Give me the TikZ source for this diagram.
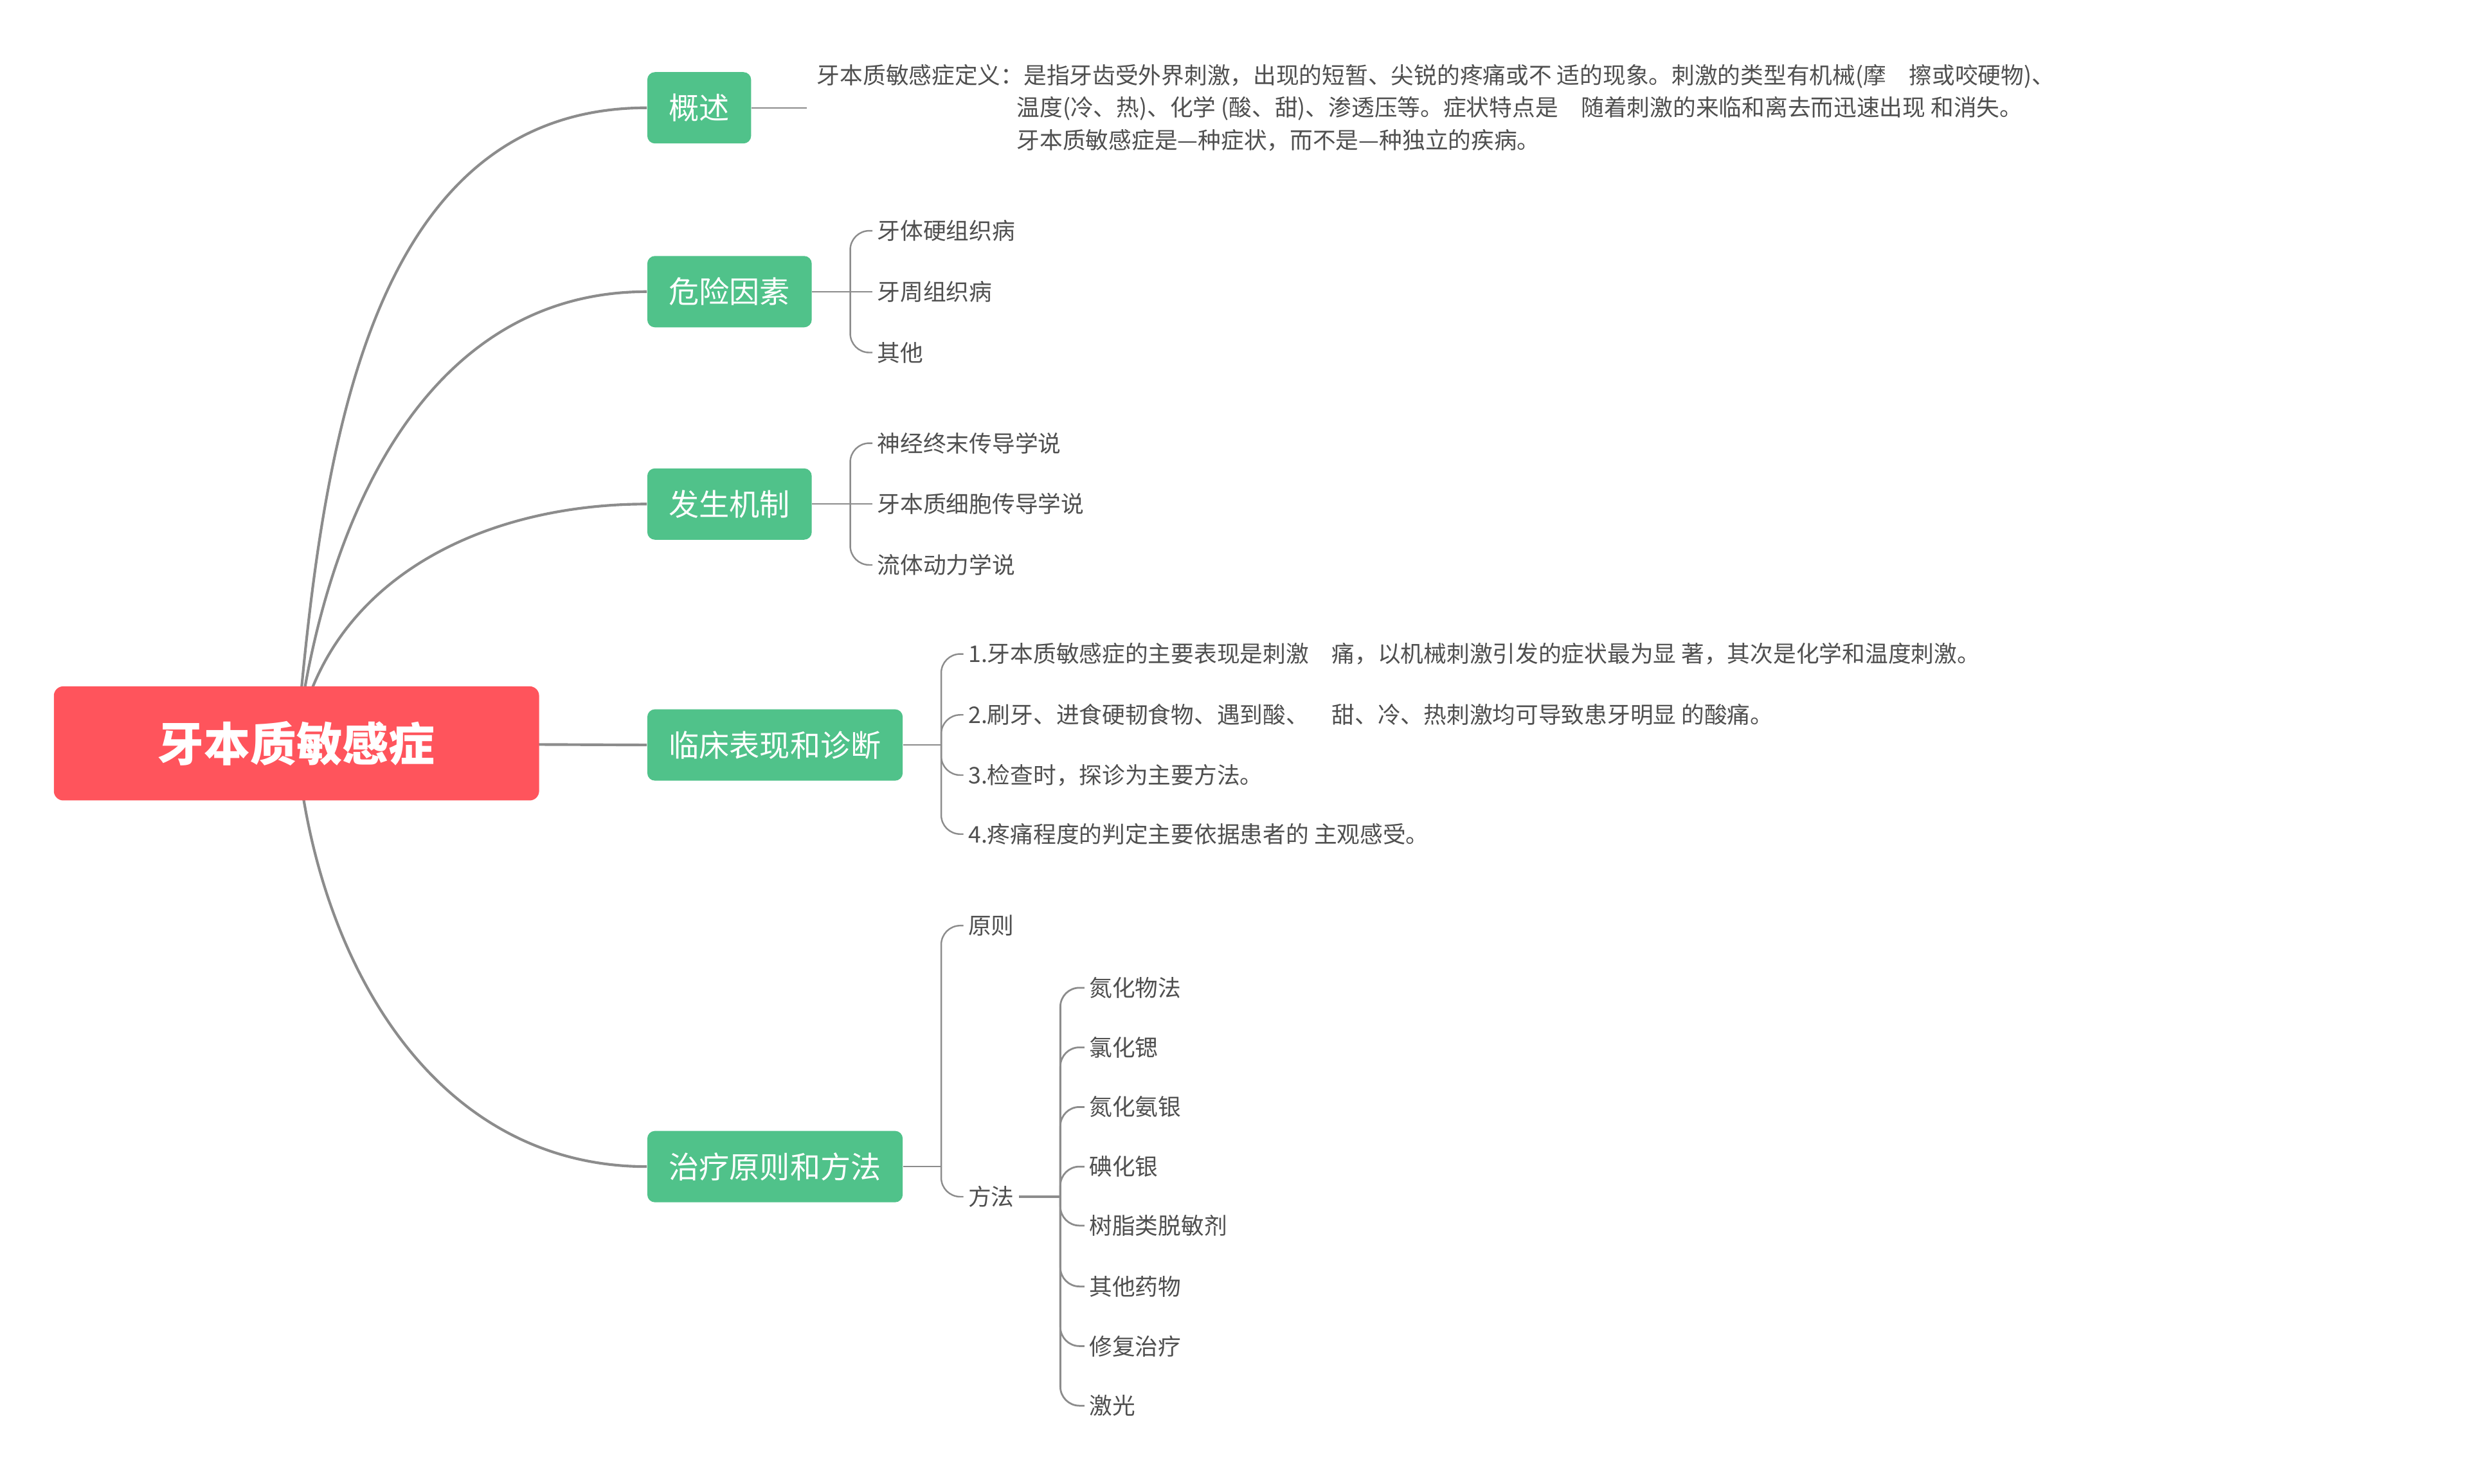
\documentclass[tikz,border=0pt]{standalone}
\usepackage{fontspec}
\setmainfont{Noto Sans CJK SC}
\usepackage{tikz}
\usetikzlibrary{positioning,backgrounds}

\definecolor{rootred}{HTML}{FF545C}
\definecolor{topicgreen}{HTML}{50C28A}
\definecolor{linegray}{HTML}{8C8C8C}
\definecolor{leafgray}{HTML}{4F4F4F}

\begin{document}
\begin{tikzpicture}[
  x=0.025cm, y=-0.025cm,
  root/.style={rectangle,rounded corners=1.5mm,fill=rootred,text=white,minimum width=76.5mm,minimum height=18mm,font=\fontsize{20.7}{24}\selectfont\bfseries},
  topic/.style={rectangle,rounded corners=1.2mm,fill=topicgreen,text=white,minimum height=11.25mm,inner xsep=3.4mm,anchor=west,font=\fontsize{13.6}{16}\selectfont},
  leaf/.style={inner xsep=0.7mm,inner ysep=0.5mm,text=leafgray,font=\fontsize{10.3}{14.6}\selectfont},
  note/.style={leaf,align=left,inner xsep=1.5mm},
  branch/.style={draw=linegray,line width=1.2pt},
  twig/.style={draw=linegray,line width=0.7pt,rounded corners=3mm},
]
  \useasboundingbox (0,0) rectangle (1568,936);
  % centre and main topics
  \node[root] (root) at (187,469) {牙本质敏感症};
  \node[topic] (gist) at (408,68) {概述};
  \node[topic] (risk) at (408,184) {危险因素};
  \node[topic] (mech) at (408,318) {发生机制};
  \node[topic] (clin) at (408,470) {临床表现和诊断};
  \node[topic] (treat) at (408,736) {治疗原则和方法};
  \begin{scope}[on background layer]
    \draw[branch] (root.center) to[out=85,in=180] (gist.west);
    \draw[branch] (root.center) to[out=83,in=180] (risk.west);
    \draw[branch] (root.center) to[out=80,in=180] (mech.west);
    \draw[branch] (root.center) -- (clin.west);
    \draw[branch] (root.center) to[out=-85,in=180] (treat.west);
  \end{scope}

  % overview
  \node[note,right=8.75mm of gist] (gistnote) {牙本质敏感症定义：是指牙齿受外界刺激，出现的短暂、尖锐的疼痛或不 适的现象。刺激的类型有机械(摩　擦或咬硬物)、\\
    \hspace*{31.5mm}温度(冷、热)、化学 (酸、甜)、渗透压等。症状特点是　随着刺激的来临和离去而迅速出现 和消失。\\
    \hspace*{31.5mm}牙本质敏感症是—种症状，而不是—种独立的疾病。};
  \draw[twig] (gist) -- (gistnote);

  % risk factors
  \coordinate[right=6mm of risk.east] (riskfork);
  \node[leaf,right=3.5mm of riskfork] (r2) {牙周组织病};
  \node[leaf,above=9.6mm of r2.west,anchor=west] (r1) {牙体硬组织病};
  \node[leaf,below=9.6mm of r2.west,anchor=west] (r3) {其他};
  \draw[twig] (risk) -- (r2);
  \draw[twig] (riskfork) |- (r1.west);
  \draw[twig] (riskfork) |- (r3.west);

  % mechanism
  \coordinate[right=6mm of mech.east] (mechfork);
  \node[leaf,right=3.5mm of mechfork] (m2) {牙本质细胞传导学说};
  \node[leaf,above=9.6mm of m2.west,anchor=west] (m1) {神经终末传导学说};
  \node[leaf,below=9.6mm of m2.west,anchor=west] (m3) {流体动力学说};
  \draw[twig] (mech) -- (m2);
  \draw[twig] (mechfork) |- (m1.west);
  \draw[twig] (mechfork) |- (m3.west);

  % clinical signs
  \coordinate[right=6mm of clin.east] (clinfork);
  \node[leaf,above right=4.75mm and 3.5mm of clinfork,anchor=west] (c2) {2.刷牙、进食硬韧食物、遇到酸、　甜、冷、热刺激均可导致患牙明显 的酸痛。};
  \node[leaf,above=9.6mm of c2.west,anchor=west] (c1) {1.牙本质敏感症的主要表现是刺激　痛，以机械刺激引发的症状最为显 著，其次是化学和温度刺激。};
  \node[leaf,below=9.5mm of c2.west,anchor=west] (c3) {3.检查时，探诊为主要方法。};
  \node[leaf,below=9.3mm of c3.west,anchor=west] (c4) {4.疼痛程度的判定主要依据患者的 主观感受。};
  \draw[twig] (clin) -- (clinfork);
  \foreach \n in {c1,c2,c3,c4}
    \draw[twig] (clinfork) |- (\n.west);

  % treatment
  \coordinate[right=6mm of treat.east] (treatfork);
  \node[leaf,above right=38mm and 3.5mm of treatfork,anchor=west] (t1) {原则};
  \node[leaf,below right=4.75mm and 3.5mm of treatfork,anchor=west] (t2) {方法};
  \draw[twig] (treat) -- (treatfork);
  \draw[twig] (treatfork) |- (t1.west);
  \draw[twig] (treatfork) |- (t2.west);

  \coordinate[right=6.5mm of t2.east] (methfork);
  \node[leaf,above right=4.75mm and 3.8mm of methfork,anchor=west] (d4) {碘化银};
  \node[leaf,above=9.4mm of d4.west,anchor=west] (d3) {氮化氨银};
  \node[leaf,above=9.4mm of d3.west,anchor=west] (d2) {氯化锶};
  \node[leaf,above=9.4mm of d2.west,anchor=west] (d1) {氮化物法};
  \node[leaf,below=9.3mm of d4.west,anchor=west] (d5) {树脂类脱敏剂};
  \node[leaf,below=9.6mm of d5.west,anchor=west] (d6) {其他药物};
  \node[leaf,below=9.4mm of d6.west,anchor=west] (d7) {修复治疗};
  \node[leaf,below=9.4mm of d7.west,anchor=west] (d8) {激光};
  \draw[twig,line width=1pt] (t2) -- (methfork);
  \foreach \n in {d1,d2,d3,d4,d5,d6,d7,d8}
    \draw[twig,line width=0.8pt] (methfork) |- (\n.west);
\end{tikzpicture}
\end{document}
